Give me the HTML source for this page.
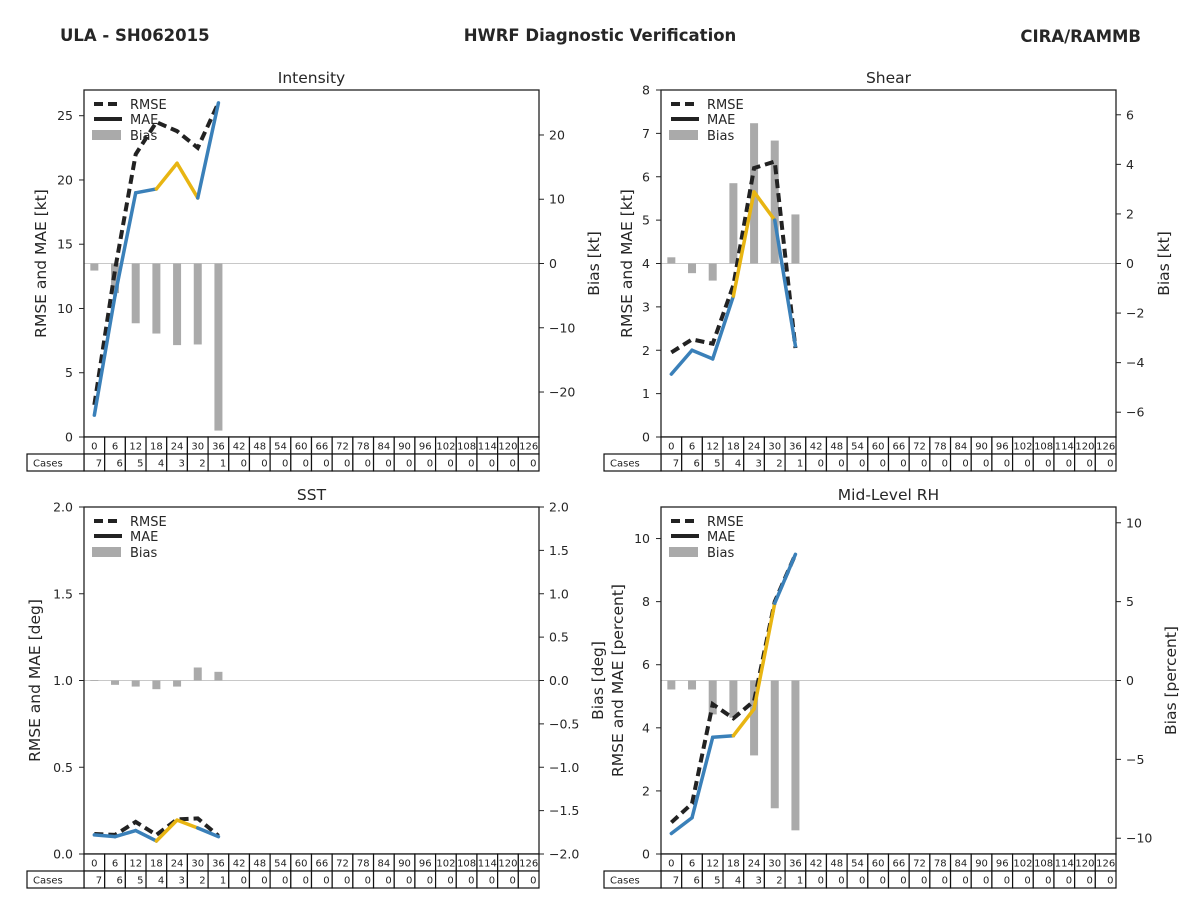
<!DOCTYPE html>
<html><head><meta charset="utf-8">
<style>
html,body{margin:0;padding:0;background:#fff;}
svg{display:block;font-family:"DejaVu Sans","Liberation Sans",sans-serif;}
</style></head>
<body>
<svg id="fig" width="1200" height="900" viewBox="0 0 1200 900" xmlns="http://www.w3.org/2000/svg">
<text x="60" y="41" font-size="16.5" font-weight="bold" fill="#262626">ULA - SH062015</text>
<text x="600" y="41" font-size="16.5" font-weight="bold" fill="#262626" text-anchor="middle">HWRF Diagnostic Verification</text>
<text x="1141" y="42" font-size="16.5" font-weight="bold" fill="#262626" text-anchor="end">CIRA/RAMMB</text>
</svg>
<script>
const hours = [0,6,12,18,24,30,36,42,48,54,60,66,72,78,84,90,96,102,108,114,120,126];
const cases = [7,6,5,4,3,2,1,0,0,0,0,0,0,0,0,0,0,0,0,0,0,0];
const intensityMAE = [1.7,11,19,19.3,21.3,18.6,26];
const intensityRMSE = [2.5,13,22,24.5,23.8,22.5,26];
const intensityBias = [-1.1,-4.6,-9.3,-10.9,-12.7,-12.6,-26];
const shearMAE = [1.45,2.0,1.8,3.25,5.65,5.0,2.1];
const shearRMSE = [1.95,2.25,2.15,3.5,6.2,6.35,2.05];
const shearBias = [0.25,-0.39,-0.69,3.24,5.66,4.96,1.98];
const sstMAE = [0.11,0.10,0.135,0.075,0.195,0.15,0.10];
const sstRMSE = [0.115,0.11,0.185,0.11,0.2,0.205,0.105];
const sstBias = [0.005,-0.05,-0.07,-0.1,-0.07,0.15,0.1];
const rhMAE = [0.65,1.15,3.7,3.75,4.6,7.95,9.5];
const rhRMSE = [1.0,1.6,4.75,4.3,4.85,8.0,9.5];
const rhBias = [-0.57,-0.57,-2.15,-2.36,-4.75,-8.1,-9.5];
const intensityLeftTicks = [0,5,10,15,20,25];
const intensityRightTicks = [-20,-10,0,10,20];
const shearLeftTicks = [0,1,2,3,4,5,6,7,8];
const shearRightTicks = [-6,-4,-2,0,2,4,6];
const sstLeftTicks = [0,0.5,1.0,1.5,2.0];
const sstRightTicks = [-2,-1.5,-1,-0.5,0,0.5,1,1.5,2];
const rhLeftTicks = [0,2,4,6,8,10];
const rhRightTicks = [-10,-5,0,5,10];

const NS = "http://www.w3.org/2000/svg";
const svg = document.getElementById('fig');
function mk(tag, attrs, parent){
  const e = document.createElementNS(NS, tag);
  for (const k in attrs) e.setAttribute(k, attrs[k]);
  (parent||svg).appendChild(e);
  return e;
}
function panel(o){
  const g = mk('g', {});
  
  
  const L=o.x, T=o.y, W=455, H=347, R=L+W, B=T+H;
  const cw = W/hours.length;
  const xs = i => L + (i+0.5)*cw;
  const yl = v => B - (v-o.lmin)/(o.lmax-o.lmin)*H;
  const yr = v => B - (v-o.rmin)/(o.rmax-o.rmin)*H;
  const zl = mk('line',{x1:L,x2:R,y1:yr(0),y2:yr(0),stroke:'#c8c8c8','stroke-width':1},g);
  
  
  o.bias.forEach((v,i)=>{
    const y0=yr(0), y1=yr(v);
    const r = mk('rect',{x:xs(i)-4,y:Math.min(y0,y1),width:8,height:Math.max(0.8,Math.abs(y1-y0)),fill:'#aaaaaa'},g);
    
    
  });
  const rp = o.rmse.map((v,i)=>xs(i)+','+yl(v)).join(' ');
  const rl = mk('polyline',{points:rp,fill:'none',stroke:'#222','stroke-width':4,'stroke-dasharray':'9,5'},g);
  
  
  for(let i=0;i<o.mae.length-1;i++){
    const col = (i===3||i===4)?'#e8b512':'#3a80b9';
    const s = mk('line',{x1:xs(i),y1:yl(o.mae[i]),x2:xs(i+1),y2:yl(o.mae[i+1]),stroke:col,'stroke-width':3.5,'stroke-linecap':'round'},g);
    
    
  }
  const f = mk('rect',{x:L,y:T,width:W,height:H,fill:'none',stroke:'#222','stroke-width':1.3},g);
  
  
  o.lticks.forEach(v=>{
    mk('line',{x1:L-5,x2:L,y1:yl(v),y2:yl(v),stroke:'#222'},g);
    const t = mk('text',{x:L-11,y:yl(v)+4.5,'font-size':12.5,fill:'#262626','text-anchor':'end'},g);
    t.textContent = o.lfmt(v);
    
    
  });
  o.rticks.forEach(v=>{
    mk('line',{x1:R,x2:R+5,y1:yr(v),y2:yr(v),stroke:'#222'},g);
    const t = mk('text',{x:R+10,y:yr(v)+4.5,'font-size':12.5,fill:'#262626'},g);
    t.textContent = o.rfmt(v);
    
    
  });
  const tt = mk('text',{x:L+W/2,y:T-7,'font-size':15.5,fill:'#262626','text-anchor':'middle'},g);
  tt.textContent=o.title;
  
  
  const ly = mk('text',{x:0,y:0,'font-size':15.5,fill:'#262626','text-anchor':'middle',transform:`translate(${o.lyx},${T+H/2}) rotate(-90)`},g);
  ly.textContent=o.lylabel;
  
  
  const ry = mk('text',{x:0,y:0,'font-size':15.5,fill:'#262626','text-anchor':'middle',transform:`translate(${o.ryx},${T+H/2}) rotate(-90)`},g);
  ry.textContent=o.rylabel;
  
  
  const lg = mk('g',{},g);
  
  
  mk('line',{x1:L+10,x2:L+38,y1:T+14,y2:T+14,stroke:'#222','stroke-width':4,'stroke-dasharray':'9,5'},lg);
  mk('line',{x1:L+10,x2:L+38,y1:T+29,y2:T+29,stroke:'#222','stroke-width':4},lg);
  mk('rect',{x:L+8,y:T+40,width:29,height:10,fill:'#aaaaaa'},lg);
  [['RMSE',T+19],['MAE',T+34],['Bias',T+50]].forEach(([s,y])=>{
    const t=mk('text',{x:L+46,y:y,'font-size':13,fill:'#262626'},lg);
    t.textContent=s;
    
    
  });
  const tb = mk('g',{},g);
  
  
  hours.forEach((h,i)=>{
    const x0=L+i*cw;
    mk('rect',{x:x0,y:B,width:cw,height:17,fill:'#fff',stroke:'#111','stroke-width':1.2},tb);
    const t=mk('text',{x:x0+cw/2,y:B+12.5,'font-size':10,fill:'#222','text-anchor':'middle'},tb);
    t.textContent=h;
    
    
    mk('rect',{x:x0,y:B+17,width:cw,height:17,fill:'#fff',stroke:'#111','stroke-width':1.2},tb);
    const c=mk('text',{x:x0+cw-2.5,y:B+29.5,'font-size':10,fill:'#222','text-anchor':'end'},tb);
    c.textContent=cases[i];
    
    
  });
  mk('rect',{x:L-57,y:B+17,width:57,height:17,fill:'#fff',stroke:'#111','stroke-width':1.2},tb);
  const ct=mk('text',{x:L-51,y:B+29.5,'font-size':10,fill:'#222'},tb);
  ct.textContent='Cases';
  
  
}
const i0 = v=>String(v);
const f1 = v=>v.toFixed(1).replace('-','\u2212');
const im = v=>String(v).replace('-','\u2212');
panel({name:'intensity',title:'Intensity',x:84,y:90,lmin:0,lmax:27,rmin:-27,rmax:27,mae:intensityMAE,rmse:intensityRMSE,bias:intensityBias,lticks:intensityLeftTicks,rticks:intensityRightTicks,lfmt:i0,rfmt:im,lylabel:'RMSE and MAE [kt]',rylabel:'Bias [kt]',lyx:46,ryx:599});
panel({name:'shear',title:'Shear',x:661,y:90,lmin:0,lmax:8,rmin:-7,rmax:7,mae:shearMAE,rmse:shearRMSE,bias:shearBias,lticks:shearLeftTicks,rticks:shearRightTicks,lfmt:i0,rfmt:im,lylabel:'RMSE and MAE [kt]',rylabel:'Bias [kt]',lyx:632,ryx:1169});
panel({name:'sst',title:'SST',x:84,y:507,lmin:0,lmax:2,rmin:-2,rmax:2,mae:sstMAE,rmse:sstRMSE,bias:sstBias,lticks:sstLeftTicks,rticks:sstRightTicks,lfmt:f1,rfmt:f1,lylabel:'RMSE and MAE [deg]',rylabel:'Bias [deg]',lyx:40,ryx:603});
panel({name:'mid-level-rh',title:'Mid-Level RH',x:661,y:507,lmin:0,lmax:11,rmin:-11,rmax:11,mae:rhMAE,rmse:rhRMSE,bias:rhBias,lticks:rhLeftTicks,rticks:rhRightTicks,lfmt:i0,rfmt:im,lylabel:'RMSE and MAE [percent]',rylabel:'Bias [percent]',lyx:623,ryx:1176});
</script>
</body></html>
